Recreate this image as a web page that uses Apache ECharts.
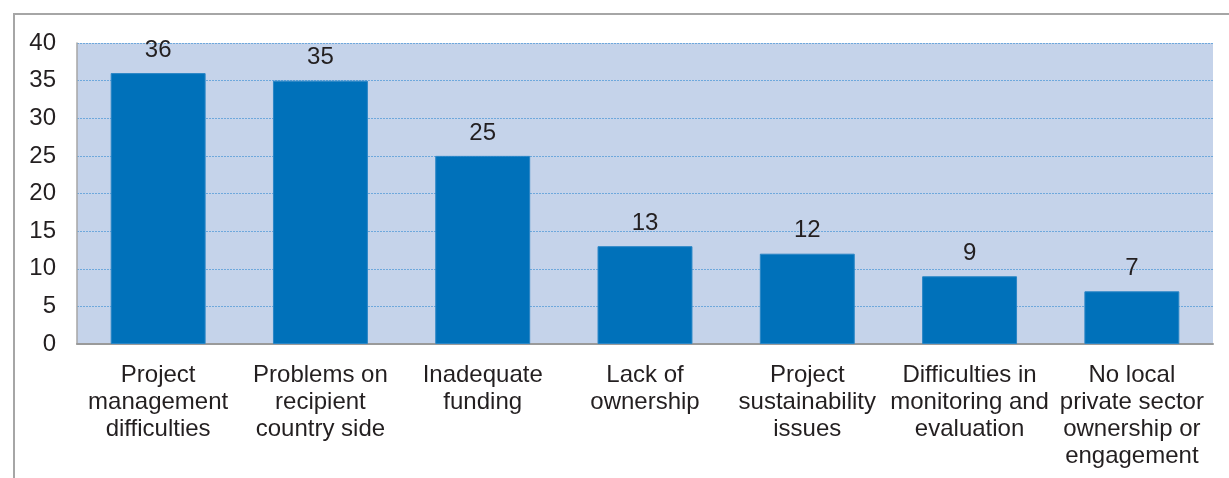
<!DOCTYPE html>
<html>
<head>
<meta charset="utf-8">
<script src="https://cdn.jsdelivr.net/npm/echarts@6/dist/echarts.min.js"></script>
<style>
  html, body { margin: 0; padding: 0; background: #ffffff; }
  #wrap { position: relative; width: 1229px; height: 478px; overflow: hidden; }
  #frame {
    position: absolute; left: 13px; top: 13px; right: -2px; bottom: -2px;
    border-top: 2px solid #a6a6a6; border-left: 2px solid #a6a6a6;
  }
  #chart { position: absolute; left: 0; top: 0; width: 1229px; height: 478px; }
</style>
</head>
<body>
<div id="wrap">
  <div id="frame"></div>
  <div id="chart"></div>
</div>
<script>
// Reported challenges, number of responses per category
const categories = [
  'Project\nmanagement\ndifficulties',
  'Problems on\nrecipient\ncountry side',
  'Inadequate\nfunding',
  'Lack of\nownership',
  'Project\nsustainability\nissues',
  'Difficulties in\nmonitoring and\nevaluation',
  'No local\nprivate sector\nownership or\nengagement'
];
const counts = [36, 35, 25, 13, 12, 9, 7];
const yTicks = { min: 0, max: 40, step: 5 };

const FONT = '"Liberation Sans", Arial, sans-serif';
const TEXT = '#231f20';

const chart = echarts.init(document.getElementById('chart'), null, { renderer: 'canvas' });
chart.setOption({
  backgroundColor: 'transparent',
  animation: false,
  grid: {
    left: 77, right: 16, top: 43, bottom: 134,
    show: true, backgroundColor: '#c5d3ea', borderWidth: 0
  },
  xAxis: {
    type: 'category',
    data: categories,
    axisLine: { show: true, lineStyle: { color: '#9a9a9a', width: 2 } },
    axisTick: { show: false },
    axisLabel: {
      interval: 0, margin: 18, color: TEXT,
      fontFamily: FONT, fontSize: 24, lineHeight: 27
    }
  },
  yAxis: {
    type: 'value',
    min: yTicks.min, max: yTicks.max, interval: yTicks.step,
    axisLine: { show: true, lineStyle: { color: '#a6a6a6', width: 1.5 } },
    axisTick: { show: false },
    axisLabel: { margin: 21, color: TEXT, fontFamily: FONT, fontSize: 24 },
    splitLine: { show: true, lineStyle: { color: '#6ea8dc', width: 1, type: [2, 1] } }
  },
  series: [{
    type: 'bar',
    data: counts,
    barWidth: '58.5%',
    itemStyle: { color: '#0071ba', borderColor: '#2a86c6', borderWidth: 1 },
    label: {
      show: true, position: 'top', distance: 11,
      color: TEXT, fontFamily: FONT, fontSize: 24
    }
  }]
});
</script>
</body>
</html>
